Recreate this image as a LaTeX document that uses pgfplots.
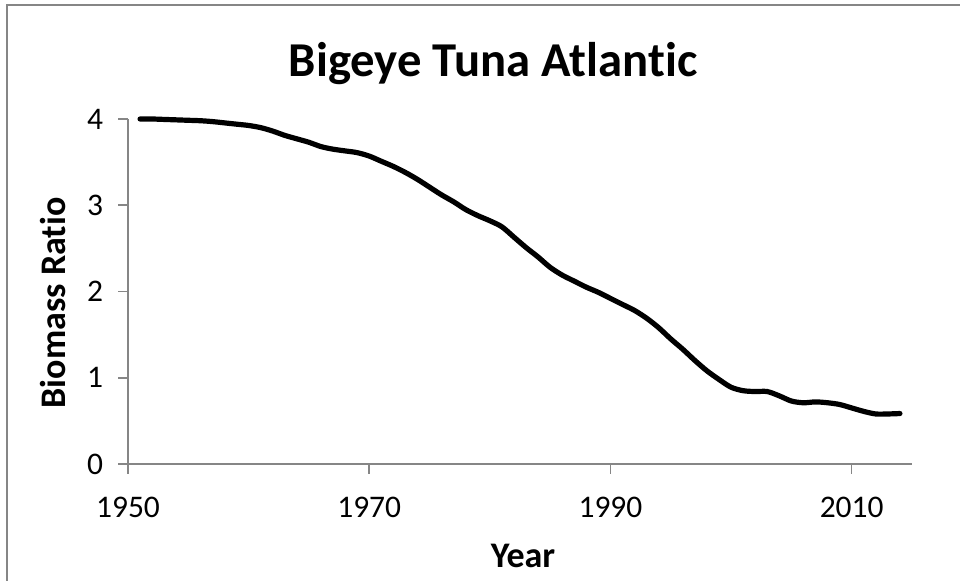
\documentclass[border=0pt]{standalone}
\usepackage{pgfplots}
\pgfplotsset{compat=1.18}
\usepackage{fontspec}
\setmainfont[Ligatures={NoCommon}]{Carlito}
\definecolor{axgray}{HTML}{868686}
\begin{document}
\begin{tikzpicture}
\useasboundingbox (0,0) rectangle (720pt,435.75pt);
\draw[axgray, line width=1.5pt] (5.25pt,-20pt) -- (5.25pt,432pt) -- (740pt,432pt);
\begin{axis}[
  at={(96pt,87.75pt)}, anchor=south west,
  width=588pt, height=258.75pt, scale only axis,
  xmin=1950, xmax=2015, ymin=0, ymax=4,
  axis x line*=bottom, axis y line*=left,
  axis line style={axgray, line width=1.2pt, -},
  xtick={1950,1970,1990,2010}, ytick={0,1,2,3,4},
  minor tick num=0,
  tick align=outside, major tick length=7.5pt,
  tick style={axgray, line width=1.2pt},
  /pgf/number format/assume math mode=true,
  /pgf/number format/1000 sep={},
  ticklabel style={font=\fontsize{23.6}{26}\selectfont, text=black, inner sep=0pt},
  xticklabel style={anchor=north, yshift=-17pt},
  yticklabel style={anchor=east, xshift=-11pt},
  clip=false,
]
\addplot[black, line width=3.9pt, smooth, tension=0.5, line cap=round] coordinates {
(1951,4.00) (1952,4.00) (1953,3.995) (1954,3.99) (1955,3.985) (1956,3.98)
(1957,3.97) (1958,3.955) (1959,3.94) (1960,3.925) (1961,3.90) (1962,3.86)
(1963,3.81) (1964,3.77) (1965,3.73) (1966,3.68) (1967,3.65) (1968,3.63)
(1969,3.61) (1970,3.57) (1971,3.51) (1972,3.45) (1973,3.38) (1974,3.30)
(1975,3.21) (1976,3.12) (1977,3.04) (1978,2.95) (1979,2.88) (1980,2.82)
(1981,2.75) (1982,2.63) (1983,2.51) (1984,2.40) (1985,2.28) (1986,2.19)
(1987,2.12) (1988,2.05) (1989,1.99) (1990,1.92) (1991,1.85) (1992,1.78)
(1993,1.69) (1994,1.58) (1995,1.45) (1996,1.33) (1997,1.20) (1998,1.08)
(1999,0.98) (2000,0.89) (2001,0.85) (2002,0.84) (2003,0.84) (2004,0.79)
(2005,0.73) (2006,0.71) (2007,0.72) (2008,0.71) (2009,0.69) (2010,0.65)
(2011,0.61) (2012,0.58) (2013,0.58) (2014,0.585)
};
\end{axis}
\node[anchor=base, inner sep=0pt, font=\fontsize{36.5}{40}\selectfont\bfseries] at (369.75pt,378pt) {Bigeye Tuna Atlantic};
\node[anchor=base, inner sep=0pt, font=\fontsize{27}{30}\selectfont\bfseries] at (392.25pt,9.75pt) {Year};
\node[anchor=base, rotate=90, inner sep=0pt, font=\fontsize{27}{30}\selectfont\bfseries] at (48.75pt,208.5pt) {Biomass Ratio};
\end{tikzpicture}
\end{document}
